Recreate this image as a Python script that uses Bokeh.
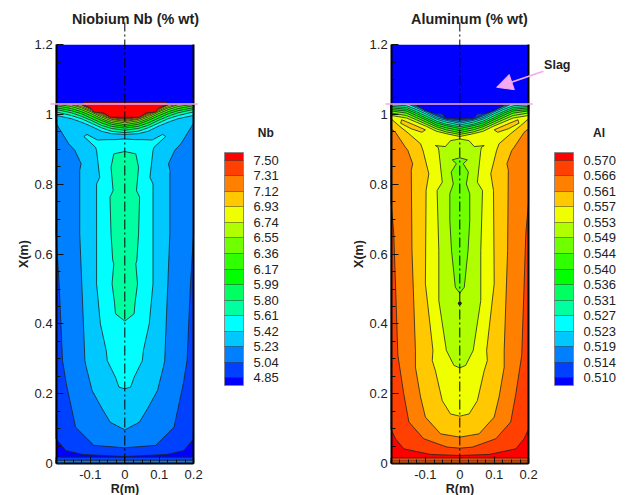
from bokeh.plotting import figure
from bokeh.layouts import row
from bokeh.core.properties import value
from bokeh.models import (Arrow, ColorBar, FixedTicker, LinearAxis, LinearColorMapper,
                          NormalHead, Range1d)
from bokeh.embed import file_html
from bokeh.resources import INLINE

FONT = "Liberation Sans"
COLORS = ["#0000ff", "#0040ff", "#0080ff", "#00c8ff", "#00ffff", "#00ffa0", "#00ff60", "#00ff00",
          "#30ff00", "#70ff00", "#b0ff00", "#f0ff00", "#ffc800", "#ff8000", "#ff4000", "#ff0000"]

NB_LEVELS = ["4.85", "5.04", "5.23", "5.42", "5.61", "5.80", "5.99", "6.17", "6.36", "6.55", "6.74", "6.93", "7.12", "7.31", "7.50"]
AL_LEVELS = ["0.510", "0.514", "0.519", "0.523", "0.527", "0.531", "0.536", "0.540", "0.544", "0.549", "0.553", "0.557", "0.561", "0.566", "0.570"]

X_TICKS = [-0.1, 0.0, 0.1, 0.2]
X_LABELS = ["-0.1", "0", "0.1", "0.2"]
Y_TICKS = [0.0, 0.2, 0.4, 0.6, 0.8, 1.0, 1.2]
Y_LABELS = ["0", "0.2", "0.4", "0.6", "0.8", "1", "1.2"]
X_MINOR = [-0.175, -0.15, -0.125, -0.075, -0.05, -0.025, 0.025, 0.05, 0.075, 0.125, 0.15, 0.175]
Y_MINOR = [0.05, 0.1, 0.15, 0.25, 0.3, 0.35, 0.45, 0.5, 0.55, 0.65, 0.7, 0.75, 0.85, 0.9, 0.95, 1.05, 1.1, 1.15]
R_EDGE = (-0.198, 0.2)
X_EDGE = (0.0, 1.2)
SLAG_TOP = 1.2
MELT_TOP = 1.03

CAP_R = [0, .039, .068, .097, .126, .155, .198]

NB_REGIONS = [
    (0, [0, .2, .2], [0, 0, 1.03]),
    (1, [0, .123, .1715, .2, .2], [.020, .026, .037, .071, 1.03]),
    (2, [0, .09, .143, .17, .181, .191, .2, .2], [.045, .052, .104, .228, .295, .515, .658, 1.03]),
    (3, [0, .042, .066, .095, .112, .116, .121, .131, .131, .127, .145, .163, .2, .2],
        [.0965, .118, .157, .209, .276, .295, .419, .658, .84, .859, .897, .916, .975, 1.03]),
    (4, [0, .017, .027, .051, .054, .071, .082, .082, .073, .082, .085, .119, .110, .08, .05, .03, 0],
        [.214, .219, .247, .295, .324, .40, .515, .801, .82, .897, .906, .937, .943, .927, .928, .928, .93]),
    (5, [0, .027, .030, .037, .032, .035, .040, .043, .034, .040, .032, 0],
        [.408, .429, .462, .515, .572, .582, .658, .763, .782, .849, .887, .894]),
    (4, CAP_R + [.2, .2], [.943, .945, .952, .966, .978, .988, .997, .997, 1.03]),
    (5, CAP_R + [.2, .2], [.948, .952, .962, .975, .988, .997, 1.007, 1.007, 1.03]),
    (6, CAP_R + [.2, .2], [.955, .960, .969, .983, .995, 1.005, 1.014, 1.014, 1.03]),
    (7, CAP_R + [.2, .2], [.961, .966, .976, .989, 1.002, 1.011, 1.019, 1.019, 1.03]),
    (8, CAP_R + [.2, .2], [.966, .972, .983, .996, 1.008, 1.017, 1.025, 1.025, 1.03]),
    (9, CAP_R + [.2, .2], [.971, .977, .988, 1.002, 1.014, 1.023, 1.029, 1.029, 1.03]),
    (10, CAP_R, [.976, .982, .993, 1.007, 1.019, 1.028, 1.03]),
    (11, CAP_R[:6], [.980, .986, .997, 1.010, 1.023, 1.03]),
    (12, CAP_R[:5] + [.14], [.983, .988, 1.0, 1.013, 1.027, 1.03]),
    (13, CAP_R[:5] + [.135], [.986, .991, 1.003, 1.016, 1.029, 1.03]),
    (14, CAP_R[:4] + [.13], [.988, .994, 1.006, 1.019, 1.03]),
    (15, [0, .042, .061, .09, .1, .119, .121, .121], [.992, .992, 1.004, 1.007, 1.019, 1.026, 1.03, 1.035]),
]
NB_STRIPS = [(1, [0, .2, .2], [0, 0, .018]), (2, [0, .2, .2], [0, 0, .009])]

AL_REGIONS = [
    (15, [0, .2, .2], [0, 0, 1.03]),
    (14, [0, .085, .163, .187, .2, .2], [.023, .026, .042, .071, .099, 1.03]),
    (13, [0, .037, .105, .148, .163, .18, .192, .2, .2], [.044, .047, .071, .119, .2, .31, .66, .75, 1.03]),
    (12, [0, .056, .1, .114, .129, .129, .139, .141, .137, .151, .158, .187, .2, .2],
         [.0755, .085, .133, .19, .276, .324, .61, .84, .859, .897, .906, .949, .959, 1.03]),
    (11, [0, .027, .051, .071, .08, .078, .1, .098, .09, .107, .114, .148, .177, .2, .2],
         [.1356, .142, .18, .266, .295, .324, .515, .782, .83, .897, .916, .945, .968, .988, 1.03]),
    (10, [0, .017, .039, .061, .061, .066, .051, .061, .063, .071, .042, .027, 0],
         [.274, .281, .324, .467, .61, .782, .806, .897, .906, .911, .908, .925, .93]),
    (9, [0, .013, .017, .024, .029, .029, .019, .025, .01, .022, 0],
        [.488, .505, .543, .61, .696, .773, .801, .835, .859, .87, .876]),
    (10, CAP_R + [.2, .2], [.937, .945, .952, .966, .978, .990, .997, .997, 1.03]),
    (9, CAP_R + [.2, .2], [.943, .950, .959, .972, .985, .997, 1.004, 1.004, 1.03]),
    (8, CAP_R + [.2, .2], [.948, .956, .965, .978, .991, 1.004, 1.010, 1.010, 1.03]),
    (7, CAP_R + [.2, .2], [.954, .962, .970, .984, .997, 1.01, 1.014, 1.014, 1.03]),
    (6, CAP_R + [.2, .2], [.960, .968, .976, .989, 1.003, 1.015, 1.019, 1.019, 1.03]),
    (5, CAP_R + [.2, .2], [.965, .972, .981, .995, 1.008, 1.02, 1.023, 1.023, 1.03]),
    (4, CAP_R + [.2, .2], [.970, .978, .987, 1.001, 1.014, 1.025, 1.028, 1.028, 1.03]),
    (3, CAP_R[:5] + [.15], [.975, .983, .991, 1.006, 1.019, 1.03]),
    (2, CAP_R[:5] + [.145], [.980, .986, .996, 1.01, 1.023, 1.03]),
    (1, CAP_R[:5] + [.135], [.985, .988, 1.0, 1.012, 1.025, 1.03]),
    (0, [0, .042, .051, .071, .1, .124, .126], [.988, .990, 1.002, 1.002, 1.011, 1.026, 1.03]),
]
AL_STRIPS = [(14, [0, .2, .2], [0, 0, .016]), (13, [0, .2, .2], [0, 0, .007])]
AL_ISLANDS = [(12, [.1, .135, .169, .172, .141, .11], [.956, .971, .985, .975, .959, .949])]
AL_DOTS = [(0, .459)]

PINK = "#f4a8f0"
SLAG_ARROW_R = [.243, .107]
SLAG_ARROW_X = [1.124, 1.078]
PINK_R = (-.216, .212)
CENTRE_TOP = 1.264

# canvas geometry in pixels
OX, OY = 0, 0
HEIGHT = 495
SPLIT = 338
RIGHT_END = 633
PX_R, PX_X = 344.0, 349.0
BOTTOM_PX = 463.0
CONTOUR = "#222222"


def mirror(r, x):
    return [-v for v in r] + list(reversed(r)), list(x) + list(reversed(x))


def panel(x0, x1, xc, title, title_r, regions, strips, islands, dots, levels, cb_px, name, name_r, slag=False):
    width = x1 - x0
    p = figure(width=width, height=HEIGHT, output_backend="svg", toolbar_location=None,
               x_range=Range1d((x0 - xc) / PX_R, (x1 - xc) / PX_R),
               y_range=Range1d((BOTTOM_PX - (OY + HEIGHT)) / PX_X, (BOTTOM_PX - OY) / PX_X),
               x_axis_location=None, y_axis_location=None,
               min_border=0, min_border_left=0, min_border_right=0, min_border_top=0, min_border_bottom=0)
    p.grid.visible = False
    p.outline_line_color = None

    xs, ys, fc, lc = [], [], [], []
    xx, yy = mirror([0, .2, .2], [MELT_TOP, MELT_TOP, SLAG_TOP])
    xs.append(xx); ys.append(yy); fc.append(COLORS[0]); lc.append(None)
    for i, (k, r, x) in enumerate(regions):
        xx, yy = mirror(r, x)
        xs.append(xx); ys.append(yy); fc.append(COLORS[k]); lc.append(CONTOUR if i else None)
    p.patches(xs, ys, fill_color=fc, line_color=lc, line_width=0.8)
    for k, r, x in islands:
        p.patch(r, x, fill_color=COLORS[k], line_color=CONTOUR, line_width=0.8)
        p.patch([-v for v in r], x, fill_color=COLORS[k], line_color=CONTOUR, line_width=0.8)
    sx, sy, sc = [], [], []
    for k, r, x in strips:
        xx, yy = mirror(r, x)
        sx.append(xx); sy.append(yy); sc.append(COLORS[k])
    p.patches(sx, sy, fill_color=sc, line_color=CONTOUR, line_width=0.8)
    for r, x in dots:
        p.scatter([r], [x], size=3, color=CONTOUR)

    xax = LinearAxis(fixed_location=X_EDGE[0], bounds=R_EDGE, axis_label="R(m)",
                     ticker=FixedTicker(ticks=X_TICKS, minor_ticks=X_MINOR),
                     major_label_overrides=dict(zip(X_TICKS, X_LABELS)),
                     major_label_standoff=6, axis_label_standoff=0)
    yax = LinearAxis(fixed_location=R_EDGE[0], bounds=X_EDGE, axis_label="X(m)",
                     ticker=FixedTicker(ticks=Y_TICKS, minor_ticks=Y_MINOR),
                     major_label_overrides=dict(zip(Y_TICKS, Y_LABELS)),
                     major_label_standoff=4, axis_label_standoff=0)
    for ax in (xax, yax):
        ax.axis_line_width = 2
        ax.axis_line_color = "black"
        ax.major_tick_in, ax.major_tick_out = 7, 0
        ax.minor_tick_in, ax.minor_tick_out = 4, 0
        ax.major_tick_line_color = "#111111"
        ax.minor_tick_line_color = "#111111"
        ax.major_label_text_font = FONT
        ax.major_label_text_font_size = "13px"
        ax.major_label_text_color = "#222222"
        ax.axis_label_text_font = FONT
        ax.axis_label_text_font_size = "12.5px"
        ax.axis_label_text_font_style = "bold"
        ax.axis_label_text_color = "#222222"
    p.add_layout(xax, "below")
    p.add_layout(yax, "left")
    edge = LinearAxis(fixed_location=R_EDGE[1], bounds=X_EDGE, axis_line_width=2, axis_line_color="black",
                      major_tick_line_color=None, minor_tick_line_color=None,
                      major_label_text_font_size="0px", major_label_text_color=None)
    p.add_layout(edge, "right")

    p.add_layout(Arrow(end=None, x_start=0, y_start=0, x_end=0, y_end=CENTRE_TOP,
                       line_color="black", line_width=1, line_dash="10 3 2 3"))
    p.add_layout(Arrow(end=None, x_start=PINK_R[0], y_start=MELT_TOP, x_end=PINK_R[1], y_end=MELT_TOP,
                       line_color=PINK, line_width=1.5))

    p.text([title_r], [(BOTTOM_PX - 18) / PX_X], text=[title], text_font=value(FONT), text_font_size="14.4px",
           text_font_style="bold", text_color="#222222", text_align="center", text_baseline="middle")
    p.text([name_r], [(BOTTOM_PX - 132) / PX_X], text=[name], text_font=value(FONT), text_font_size="12px",
           text_font_style="bold", text_color="#222222", text_align="center", text_baseline="middle")
    if slag:
        p.add_layout(Arrow(end=NormalHead(size=16, fill_color=PINK, line_color=PINK),
                           x_start=SLAG_ARROW_R[0], y_start=SLAG_ARROW_X[0],
                           x_end=SLAG_ARROW_R[1], y_end=SLAG_ARROW_X[1],
                           line_color=PINK, line_width=1.5))
        p.text([.245], [1.143], text=["Slag"], text_font=value(FONT), text_font_size="12.5px",
               text_font_style="bold", text_color="#222222", text_baseline="middle")

    palette = [COLORS[0]]
    for c in COLORS[1:-1]:
        palette += [c, c]
    palette.append(COLORS[-1])
    mapper = LinearColorMapper(palette=palette, low=-0.5, high=len(levels) - 0.5)
    idx = list(range(len(levels)))
    cb = ColorBar(color_mapper=mapper, ticker=FixedTicker(ticks=idx),
                  major_label_overrides=dict(zip(idx, levels)), width=19, height=233,
                  location=(cb_px - x0, OY + HEIGHT - 385), padding=0, margin=0, background_fill_alpha=0,
                  border_line_color=None, bar_line_color="#888888", bar_line_width=1,
                  major_tick_in=19, major_tick_line_color="#333333", major_tick_line_alpha=0.5,
                  major_tick_line_width=1, minor_tick_line_color=None, label_standoff=10,
                  major_label_text_font=FONT, major_label_text_font_size="13px",
                  major_label_text_color="#222222")
    p.add_layout(cb)
    return p


p1 = panel(OX, SPLIT, 124.3, "Niobium Nb (% wt)", .031, NB_REGIONS, NB_STRIPS, [], [], NB_LEVELS, 224, "Nb", .41)
p2 = panel(SPLIT, RIGHT_END, 459.3, "Aluminum (% wt)", .028, AL_REGIONS, AL_STRIPS, AL_ISLANDS, AL_DOTS, AL_LEVELS,
           554, "Al", .405, slag=True)

layout = row(p1, p2, spacing=0)
open("out.html", "w").write(file_html(layout, INLINE))
